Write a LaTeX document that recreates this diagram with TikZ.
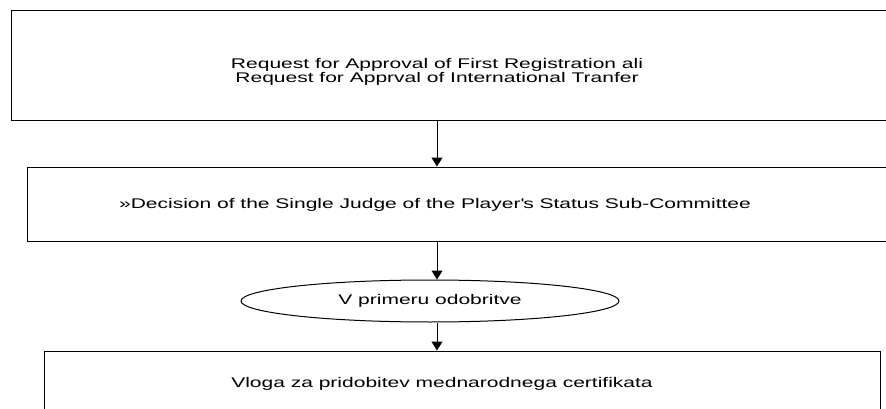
\documentclass[tikz,border=0pt]{standalone}
\usepackage{fontspec}
\setmainfont{Liberation Sans}
\newfontfamily\widefont[FakeStretch=1.5]{Liberation Sans}
\usetikzlibrary{arrows.meta,positioning,shapes.geometric,calc}

\begin{document}
\begin{tikzpicture}[x=1pt, y=-1pt, line width=1pt, font=\widefont\fontsize{14}{14}\selectfont, >={Triangle[length=9pt, width=11pt]},
  box/.style={draw, rectangle, inner sep=0pt},
  txt/.style={inner sep=0pt, align=center},
  oval/.style={draw, ellipse, minimum width=378pt, minimum height=42pt, inner sep=0pt}]
  \useasboundingbox (0,0) rectangle (886,409);
  \clip (0,0) rectangle (886,409);
  % frames
  \node[box, minimum width=889pt, minimum height=110pt] (req) at (455.5,66) {};
  \node[box, minimum width=873pt, minimum height=74pt] (dec) at (463.5,204) {};
  \node[box, minimum width=836pt, minimum height=89pt] (vl) at (462,395.5) {};
  % texts
  \node[txt] (reqt) at (437,72) {Request for Approval of First Registration ali\\Request for Apprval of International Tranfer};
  \node[txt] (dect) at (435,205) {»Decision of the Single Judge of the Player\textquotesingle s Status Sub-Committee};
  \node[oval] (odob) at (430,301) {V primeru odobritve};
  \node[txt] (vlt) at (442,384) {Vloga za pridobitev mednarodnega certifikata};
  % flow
  \draw[->] (req.south -| reqt) -- (dec.north -| reqt);
  \draw[->] (dec.south -| reqt) -- (odob.north -| reqt);
  \draw[->] (odob.south -| reqt) -- (vl.north -| reqt);
\end{tikzpicture}
\end{document}
